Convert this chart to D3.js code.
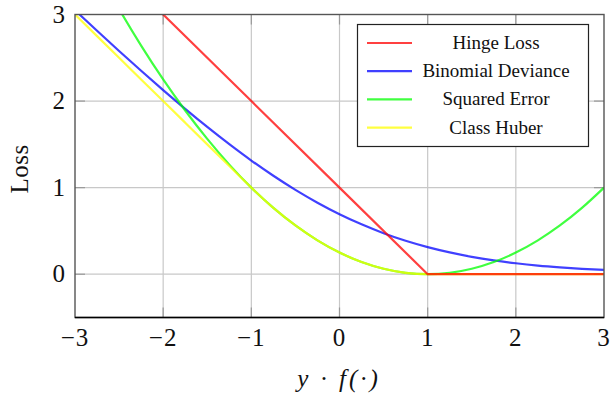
<!DOCTYPE html>
<html><head><meta charset="utf-8">
<script src="https://cdn.jsdelivr.net/npm/d3@7"></script>
<style>body{margin:0;background:#fff}svg{display:block}</style>
</head><body>
<svg id="c" width="610" height="399"></svg>
<script>
// ---- data ----
const xSamples = [-3,-2.75,-2.5,-2.25,-2,-1.75,-1.5,-1.25,-1,-0.75,-0.5,-0.25,0,0.25,0.5,0.75,1,1.25,1.5,1.75,2,2.25,2.5,2.75,3];
const hingeX = [-3,-2,-1,0,1,2,3];
const hingeY = [4,3,2,1,0,0,0];
const binomialY = [3.049,2.812,2.579,2.350,2.127,1.910,1.701,1.502,1.313,1.137,0.974,0.826,0.693,0.576,0.474,0.386,0.313,0.252,0.201,0.160,0.127,0.100,0.079,0.062,0.049];
const squaredY = [4.0,3.516,3.063,2.641,2.25,1.891,1.563,1.266,1.0,0.766,0.563,0.391,0.25,0.141,0.063,0.016,0,0.016,0.063,0.141,0.25,0.391,0.563,0.766,1.0];
const huberY = [3.0,2.75,2.5,2.25,2.0,1.75,1.5,1.25,1.0,0.766,0.563,0.391,0.25,0.141,0.063,0.016,0,0,0,0,0,0,0,0,0];
const seriesNames = ["Hinge Loss","Binomial Deviance","Squared Error","Class Huber"];
const seriesColors = ["rgba(255,0,0,0.75)","rgba(0,0,255,0.75)","rgba(0,255,0,0.75)","rgba(255,255,0,0.75)"];
const xTicks = [-3,-2,-1,0,1,2,3];
const yTicks = [0,1,2,3];
const xLabel = "y · f(·)";
const yLabel = "Loss";

// ---- layout ----
const svg = d3.select("#c");
const L=75, R=604, T=14.5, B=317.5;
const x = d3.scaleLinear().domain([-3,3]).range([L,R]);
const y = d3.scaleLinear().domain([-0.5,3]).range([B,T]);
const serif = "'Liberation Serif','Times New Roman',serif";

// grid
const g = svg.append("g");
g.selectAll(".gx").data(xTicks.filter(d=>d>-3&&d<3)).join("line")
  .attr("x1",d=>x(d)).attr("x2",d=>x(d)).attr("y1",T).attr("y2",B)
  .attr("stroke","#c8c8c8").attr("stroke-width",1.2);
g.selectAll(".gy").data(yTicks.filter(d=>d<3)).join("line")
  .attr("x1",L).attr("x2",R).attr("y1",d=>y(d)).attr("y2",d=>y(d))
  .attr("stroke","#c8c8c8").attr("stroke-width",1.2);

// inner tick marks
g.selectAll(".tb").data(xTicks.filter(d=>d>-3&&d<3)).join("line")
  .attr("x1",d=>x(d)).attr("x2",d=>x(d)).attr("y1",B).attr("y2",B-10)
  .attr("stroke","#999").attr("stroke-width",1.2);
g.selectAll(".tt").data(xTicks.filter(d=>d>-3&&d<3)).join("line")
  .attr("x1",d=>x(d)).attr("x2",d=>x(d)).attr("y1",T).attr("y2",T+10)
  .attr("stroke","#999").attr("stroke-width",1.2);
g.selectAll(".tl").data(yTicks.filter(d=>d<3)).join("line")
  .attr("x1",L).attr("x2",L+10).attr("y1",d=>y(d)).attr("y2",d=>y(d))
  .attr("stroke","#999").attr("stroke-width",1.2);
g.selectAll(".tr").data(yTicks.filter(d=>d<3)).join("line")
  .attr("x1",R).attr("x2",R-10).attr("y1",d=>y(d)).attr("y2",d=>y(d))
  .attr("stroke","#999").attr("stroke-width",1.2);

// clip
svg.append("clipPath").attr("id","clip").append("rect")
  .attr("x",L).attr("y",T).attr("width",R-L).attr("height",B-T);
const plot = svg.append("g").attr("clip-path","url(#clip)");

const smooth = d3.line().x(d=>x(d[0])).y(d=>y(d[1])).curve(d3.curveMonotoneX);
const straight = d3.line().x(d=>x(d[0])).y(d=>y(d[1]));
const pair = ys => xSamples.map((v,i)=>[v,ys[i]]);

const paths = [
  {d: straight(hingeX.map((v,i)=>[v,hingeY[i]])), c: seriesColors[0], order: 3},
  {d: smooth(pair(binomialY)), c: seriesColors[1], order: 0},
  {d: smooth(pair(squaredY)), c: seriesColors[2], order: 1},
  {d: smooth(pair(huberY)), c: seriesColors[3], order: 2}
].sort((a,b)=>a.order-b.order);
plot.selectAll("path").data(paths).join("path")
  .attr("d",d=>d.d).attr("fill","none").attr("stroke",d=>d.c)
  .attr("stroke-width",2.2).attr("stroke-linejoin","round");

// frame
svg.append("rect").attr("x",L).attr("y",T).attr("width",R-L).attr("height",B-T)
  .attr("fill","none").attr("stroke","#555").attr("stroke-width",1.4);
svg.append("line").attr("x1",L).attr("x2",R).attr("y1",B).attr("y2",B)
  .attr("stroke","#000").attr("stroke-width",1.6);

// tick labels
const fmt = d => d<0 ? "\u2212"+Math.abs(d) : String(d);
svg.selectAll(".xl").data(xTicks).join("text")
  .attr("x",d=>x(d)).attr("y",346).attr("text-anchor","middle")
  .attr("font-family",serif).attr("font-size",25).attr("fill","#111")
  .attr("letter-spacing",1)
  .text(fmt);
svg.selectAll(".yl").data(yTicks).join("text")
  .attr("x",65).attr("y",d=>y(d)+8).attr("text-anchor","end")
  .attr("font-family",serif).attr("font-size",25).attr("fill","#111")
  .text(fmt);

// axis labels
svg.append("text").attr("x",339).attr("y",387).attr("text-anchor","middle")
  .attr("font-family",serif).attr("font-size",25).attr("font-style","italic").attr("fill","#111")
  .attr("letter-spacing",3)
  .text(xLabel);
svg.append("text").attr("transform","translate(28,169) rotate(-90)").attr("text-anchor","middle")
  .attr("font-family",serif).attr("font-size",25).attr("fill","#111")
  .attr("letter-spacing",0.5)
  .text(yLabel);

// legend
const lg = svg.append("g");
lg.append("rect").attr("x",357.5).attr("y",24.5).attr("width",231).attr("height",122)
  .attr("fill","#fff").attr("stroke","#222").attr("stroke-width",1.2);
const rows = seriesNames.map((n,i)=>({n, c: seriesColors[i], yy: 43 + i*28.2}));
lg.selectAll(".ll").data(rows).join("line")
  .attr("x1",367).attr("x2",412).attr("y1",d=>d.yy).attr("y2",d=>d.yy)
  .attr("stroke",d=>d.c).attr("stroke-width",2.2);
lg.selectAll(".lt").data(rows).join("text")
  .attr("x",496).attr("y",d=>d.yy+6).attr("text-anchor","middle")
  .attr("font-family",serif).attr("font-size",19).attr("fill","#111")
  .text(d=>d.n);
</script>
</body></html>
